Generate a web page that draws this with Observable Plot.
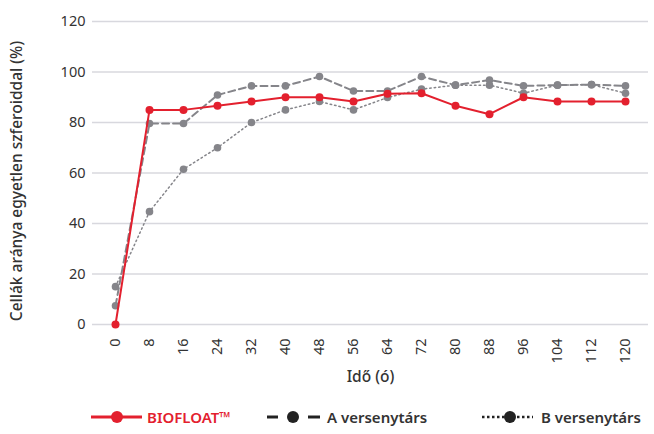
<!DOCTYPE html>
<html>
<head>
<meta charset="utf-8">
<script src="https://cdn.jsdelivr.net/npm/d3@7"></script>
<script src="https://cdn.jsdelivr.net/npm/@observablehq/plot@0.6"></script>
<style>
  body { margin: 0; background: #fff; font-family: "Noto Sans", sans-serif; }
  #legend { position: relative; height: 34px; font-size: 15px; font-weight: 600; color: #333; }
  #legend .item { display: flex; align-items: center; position: absolute; top: 7px; height: 20px; }
</style>
</head>
<body>
<div id="chart"></div>
<div id="legend"></div>
<script>
const hours = [0, 8, 16, 24, 32, 40, 48, 56, 64, 72, 80, 88, 96, 104, 112, 120];
const biofloat = [0, 85, 85, 86.6, 88.3, 90, 90, 88.3, 91.4, 91.6, 86.6, 83.3, 90, 88.3, 88.3, 88.3];
const versenytarsA = [7.4, 79.6, 79.6, 90.9, 94.5, 94.5, 98.2, 92.5, 92.5, 98.2, 94.8, 96.8, 94.5, 94.8, 95, 94.5];
const versenytarsB = [15, 44.7, 61.5, 70, 80, 85, 88.3, 85, 89.9, 93.2, 94.8, 94.8, 91.6, 94.8, 95, 91.6];
const yTicks = [0, 20, 40, 60, 80, 100, 120];
const seriesNames = ["BIOFLOAT™", "A versenytárs", "B versenytárs"];
const yLabel = "Cellák aránya egyetlen szferoiddal (%)";
const xLabel = "Idő (ó)";

const red = "#e3202e";
const grey = "#85858a";

const mk = (vals, name) => hours.map((h, i) => ({hour: h, value: vals[i], series: name}));
const dR = mk(biofloat, seriesNames[0]);
const dA = mk(versenytarsA, seriesNames[1]);
const dB = mk(versenytarsB, seriesNames[2]);

const chart = Plot.plot({
  width: 654,
  height: 400,
  marginLeft: 92,
  marginRight: 6,
  marginTop: 21,
  marginBottom: 76,
  style: {fontSize: "14.5px", fontFamily: "Noto Sans, sans-serif", color: "#333", background: "#fff"},
  x: {type: "point", domain: hours, padding: 0.5, align: 0.5},
  y: {domain: [0, 120], ticks: yTicks},
  marks: [
    Plot.gridY(yTicks, {stroke: "#d8d8de", strokeOpacity: 1, strokeWidth: 1.6}),
    Plot.axisY(yTicks, {tickSize: 0, tickPadding: 7, label: null, fontSize: 14.5}),
    Plot.axisX(hours, {tickSize: 0, tickPadding: 14, tickRotate: -90, label: null, fontSize: 14.5}),
    Plot.text([yLabel], {text: d => d, frameAnchor: "left", textAnchor: "middle", lineAnchor: "middle", rotate: -90, dx: -75, dy: 8, fontSize: 15.5, fontWeight: 500, fill: "#333"}),
    Plot.text([xLabel], {text: d => d, frameAnchor: "bottom", dy: 57, fontSize: 15.5, fontWeight: 500, fill: "#333"}),
    Plot.line(dB, {x: "hour", y: "value", stroke: grey, strokeWidth: 1.5, strokeDasharray: "1.5,3"}),
    Plot.dot(dB, {x: "hour", y: "value", r: 3.8, fill: grey}),
    Plot.line(dA, {x: "hour", y: "value", stroke: grey, strokeWidth: 2, strokeDasharray: "7,4"}),
    Plot.dot(dA, {x: "hour", y: "value", r: 3.8, fill: grey}),
    Plot.line(dR, {x: "hour", y: "value", stroke: red, strokeWidth: 2}),
    Plot.dot(dR, {x: "hour", y: "value", r: 4, fill: red})
  ]
});
document.getElementById("chart").appendChild(chart);

// legend
const legend = document.getElementById("legend");
const dk = "#222";
const swatches = [
  `<svg width="51" height="20"><line x1="0" x2="51" y1="10" y2="10" stroke="${red}" stroke-width="3"/><circle cx="26" cy="10" r="6" fill="${red}"/></svg>`,
  `<svg width="53" height="20"><line x1="0" x2="11" y1="10" y2="10" stroke="${dk}" stroke-width="3"/><circle cx="26" cy="10" r="6" fill="${dk}"/><line x1="41" x2="53" y1="10" y2="10" stroke="${dk}" stroke-width="3"/></svg>`,
  `<svg width="51" height="20"><line x1="0" x2="51" y1="10" y2="10" stroke="${dk}" stroke-width="2.5" stroke-dasharray="2.5,2.5"/><circle cx="28" cy="10" r="6" fill="${dk}"/></svg>`
];
const items = [
  {name: seriesNames[0], left: 91, textColor: red, gap: 5},
  {name: seriesNames[1], left: 267, textColor: "#333", gap: 7},
  {name: seriesNames[2], left: 482, textColor: "#333", gap: 8}
];
items.forEach((it, i) => {
  const div = document.createElement("div");
  div.className = "item";
  div.style.left = it.left + "px";
  div.innerHTML = swatches[i] + `<span style="color:${it.textColor};margin-left:${it.gap}px">${it.name}</span>`;
  legend.appendChild(div);
});
</script>
</body>
</html>
